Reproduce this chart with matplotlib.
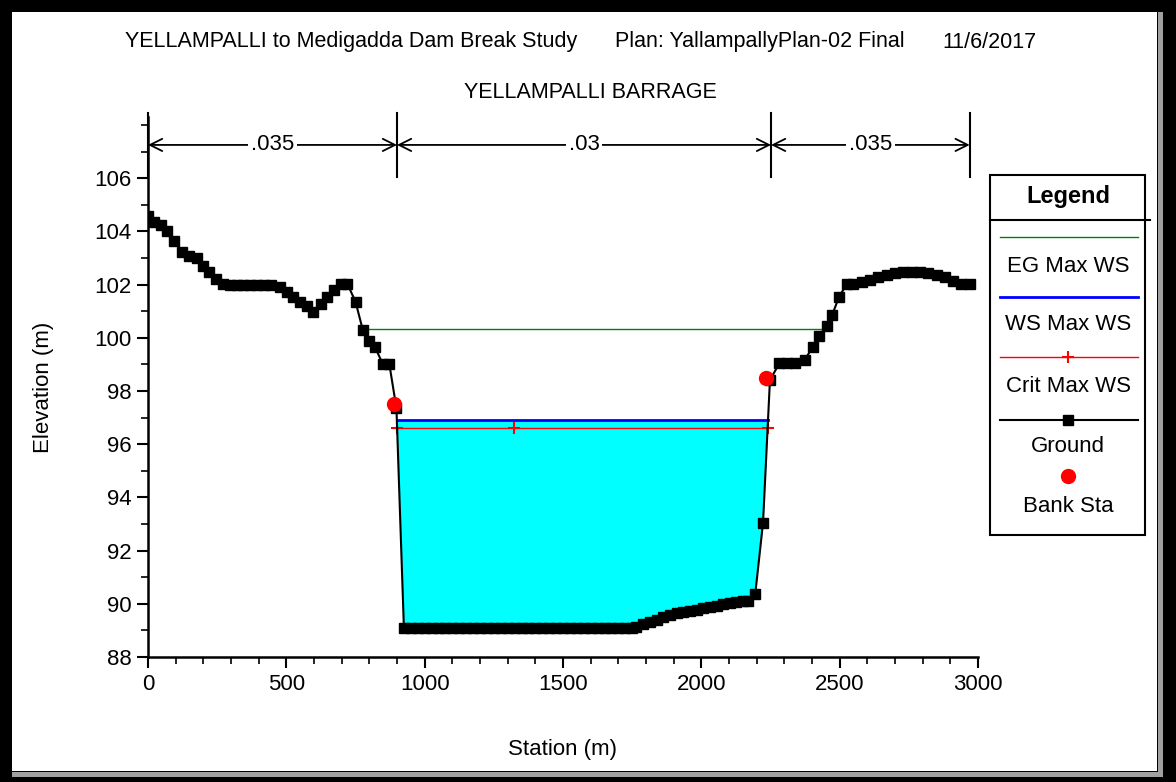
import matplotlib
matplotlib.use('Agg')
import matplotlib.pyplot as plt
import numpy as np
from matplotlib.lines import Line2D
from matplotlib.patches import Rectangle
from matplotlib.ticker import MultipleLocator

FONT = ['Liberation Sans Narrow', 'Liberation Sans', 'DejaVu Sans']
plt.rcParams['font.family'] = FONT

# ---------------- data ----------------
ground_sta = [0, 22, 46, 70, 94, 124, 149, 176, 200, 222, 246, 272, 296, 320, 345,
              370, 395, 420, 445, 477, 501, 525, 549, 573, 597, 624, 648, 672, 696,
              720, 750, 776, 800, 820, 848, 872, 898,
              925, 950, 975, 1000, 1025, 1050, 1075, 1100, 1125, 1150, 1175, 1200,
              1225, 1250, 1275, 1300, 1325, 1350, 1375, 1400, 1425, 1450, 1475, 1500,
              1525, 1550, 1575, 1600, 1625, 1650, 1675, 1700, 1725, 1750,
              1765, 1790, 1814, 1838, 1862, 1887, 1911, 1935, 1959, 1983, 2007, 2031,
              2055, 2079, 2103, 2127, 2150, 2170, 2195, 2223, 2248,
              2282, 2308, 2338, 2374, 2402, 2426, 2453, 2473, 2497, 2525, 2549, 2579,
              2609, 2639, 2670, 2700, 2730, 2760, 2790, 2820, 2850, 2880, 2910, 2940, 2970]
ground_elev = [104.58, 104.37, 104.24, 104.03, 103.65, 103.24, 103.07, 102.99, 102.70,
               102.49, 102.20, 102.02, 102.0, 102.0, 102.0, 102.0, 102.0, 102.0, 102.0,
               101.90, 101.73, 101.54, 101.36, 101.19, 100.98, 101.27, 101.52, 101.80,
               102.04, 102.04, 101.36, 100.31, 99.89, 99.66, 99.03, 99.03, 97.35,
               89.08, 89.08, 89.08, 89.08, 89.08, 89.08, 89.08, 89.08, 89.08, 89.08,
               89.08, 89.08, 89.08, 89.08, 89.08, 89.08, 89.08, 89.08, 89.08, 89.08,
               89.08, 89.08, 89.08, 89.08, 89.08, 89.08, 89.08, 89.08, 89.08, 89.08,
               89.08, 89.08, 89.08, 89.08,
               89.12, 89.25, 89.33, 89.40, 89.50, 89.58, 89.64, 89.70, 89.74, 89.78,
               89.84, 89.89, 89.93, 89.98, 90.02, 90.06, 90.10, 90.12, 90.38, 93.05,
               98.41,
               99.04, 99.04, 99.04, 99.17, 99.65, 100.07, 100.44, 100.86, 101.52,
               102.02, 102.04, 102.11, 102.17, 102.30, 102.36, 102.45, 102.49, 102.49,
               102.49, 102.45, 102.36, 102.27, 102.15, 102.04, 102.02]

bank_sta = [889, 2233]
bank_elev = [97.5, 98.5]

eg_max_ws = 100.33
ws_max_ws = 96.91
crit_max_ws = 96.61
crit_mid_sta = 1323

n_breaks = [0, 900, 2252, 2970]
n_values = ['.035', '.03', '.035']

title_parts = ['YELLAMPALLI to Medigadda Dam Break Study',
               'Plan: YallampallyPlan-02 Final', '11/6/2017']
subtitle = 'YELLAMPALLI BARRAGE'
legend_labels = ['EG Max WS', 'WS Max WS', 'Crit Max WS', 'Ground', 'Bank Sta']

gs = np.array(ground_sta, float)
ge = np.array(ground_elev, float)


def crossings(level):
    pts = []
    for i in range(len(gs) - 1):
        a, b = ge[i] - level, ge[i + 1] - level
        if a == 0:
            pts.append(gs[i])
        elif a * b < 0:
            pts.append(gs[i] + (gs[i + 1] - gs[i]) * a / (a - b))
    return pts[0], pts[-1]

# ---------------- figure ----------------
W, H = 1176, 782
fig = plt.figure(figsize=(W / 100, H / 100), dpi=100)
fig.patch.set_facecolor('black')


def fx(px):
    return px / W


def fy(py):
    return 1 - py / H


def frect(x0, y0, x1, y1, **kw):
    r = Rectangle((fx(x0), fy(y1)), fx(x1) - fx(x0), fy(y0) - fy(y1),
                  transform=fig.transFigure, **kw)
    fig.patches.append(r)

frect(12, 12, 1163, 777, facecolor='#a0a0a0', edgecolor='none', zorder=-10)
frect(12, 12, 1158, 772, facecolor='black', edgecolor='none', zorder=-9)
frect(12, 12, 1157, 771, facecolor='white', edgecolor='none', zorder=-8)

ax = fig.add_axes([fx(148), fy(657), fx(978) - fx(148), fy(117) - fy(657)])
ax.patch.set_alpha(0)
ax.set_xlim(0, 3000)
ax.set_ylim(88, 108.3)
for s in ['top', 'right']:
    ax.spines[s].set_visible(False)
for s in ['left', 'bottom']:
    ax.spines[s].set_linewidth(1.8)

ax.set_yticks(np.arange(88, 107, 2))
ax.yaxis.set_minor_locator(MultipleLocator(1))
ax.xaxis.set_major_locator(MultipleLocator(500))
ax.xaxis.set_minor_locator(MultipleLocator(100))
ax.tick_params(which='major', length=8, width=1.5, labelsize=16, pad=4)
ax.tick_params(which='minor', length=5, width=1.2)
ax.set_xlabel('Station (m)', fontsize=16, labelpad=32)
ax.set_ylabel('Elevation (m)', fontsize=16, labelpad=29)

# water fill
ax.fill_between(gs, ge, ws_max_ws, where=ge < ws_max_ws, interpolate=True,
                color='#00ffff', linewidth=0, zorder=1)

# lines
eg0, eg1 = crossings(eg_max_ws)
ax.plot([eg0, eg1], [eg_max_ws] * 2, color='#008000', lw=1, zorder=3)
ws0, ws1 = crossings(ws_max_ws)
ax.plot([ws0, ws1], [ws_max_ws] * 2, color='#0000ff', lw=2, zorder=3)
cr0, cr1 = crossings(crit_max_ws)
ax.plot([cr0, crit_mid_sta, cr1], [crit_max_ws] * 3, color='#ff0000', lw=1,
        marker='+', ms=8, mew=1.5, zorder=3)
ax.plot(gs, ge, color='black', lw=1.5, marker='s', ms=7, zorder=4)
ax.plot(bank_sta, bank_elev, 'o', color='#ff0000', ms=10, zorder=5, ls='none')

# manning's n
ny = 107.25
for b in n_breaks:
    ax.plot([b, b], [106.05, 108.45], color='black', lw=1.5, clip_on=False, zorder=6)
for i, v in enumerate(n_values):
    a, b = n_breaks[i], n_breaks[i + 1]
    ax.annotate('', xy=(b, ny), xytext=(a, ny), annotation_clip=False,
                arrowprops=dict(arrowstyle='<->', lw=1.3, color='black',
                                shrinkA=0, shrinkB=0, mutation_scale=22))
    ax.text((a + b) / 2, ny, v, ha='center', va='center', fontsize=16,
            bbox=dict(facecolor='white', edgecolor='none', pad=2), zorder=7)

# titles
fig.text(fx(125), fy(42), title_parts[0], fontsize=15.5, ha='left', va='center')
fig.text(fx(615), fy(42), title_parts[1], fontsize=15.5, ha='left', va='center')
fig.text(fx(942), fy(42), title_parts[2], fontsize=15.5, ha='left', va='center')
fig.text(fx(590), fy(93), subtitle, fontsize=15.5, ha='center', va='center')

# legend
frect(990, 175, 1145, 535, facecolor='white', edgecolor='black', lw=1.5, zorder=1)
fig.add_artist(Line2D([fx(990), fx(1150)], [fy(220), fy(220)], color='black', lw=1.5,
                      transform=fig.transFigure))
fig.text(fx(1068), fy(196), 'Legend', fontsize=17, fontweight='bold',
         ha='center', va='center')
lx0, lx1, lxm = fx(1000), fx(1138), fx(1068)
fig.add_artist(Line2D([lx0, lx1], [fy(237)] * 2, color='#008000', lw=1,
                      transform=fig.transFigure))
fig.add_artist(Line2D([lx0, lx1], [fy(297)] * 2, color='#0000ff', lw=2,
                      transform=fig.transFigure))
fig.add_artist(Line2D([lx0, lx1], [fy(357)] * 2, color='#ff0000', lw=1,
                      transform=fig.transFigure))
fig.add_artist(Line2D([lxm], [fy(357)], color='#ff0000', marker='+', ms=8, mew=1.5,
                      transform=fig.transFigure))
fig.add_artist(Line2D([lx0, lx1], [fy(420)] * 2, color='black', lw=1.5,
                      transform=fig.transFigure))
fig.add_artist(Line2D([lxm], [fy(420)], color='black', marker='s', ms=7,
                      transform=fig.transFigure))
fig.add_artist(Line2D([lxm], [fy(476)], color='#ff0000', marker='o', ms=10,
                      transform=fig.transFigure))
for lab, py in zip(legend_labels, [266, 325, 387, 447, 506]):
    fig.text(lxm, fy(py), lab, fontsize=16, ha='center', va='center')

fig.savefig('out.png', dpi=100, facecolor=fig.get_facecolor())
